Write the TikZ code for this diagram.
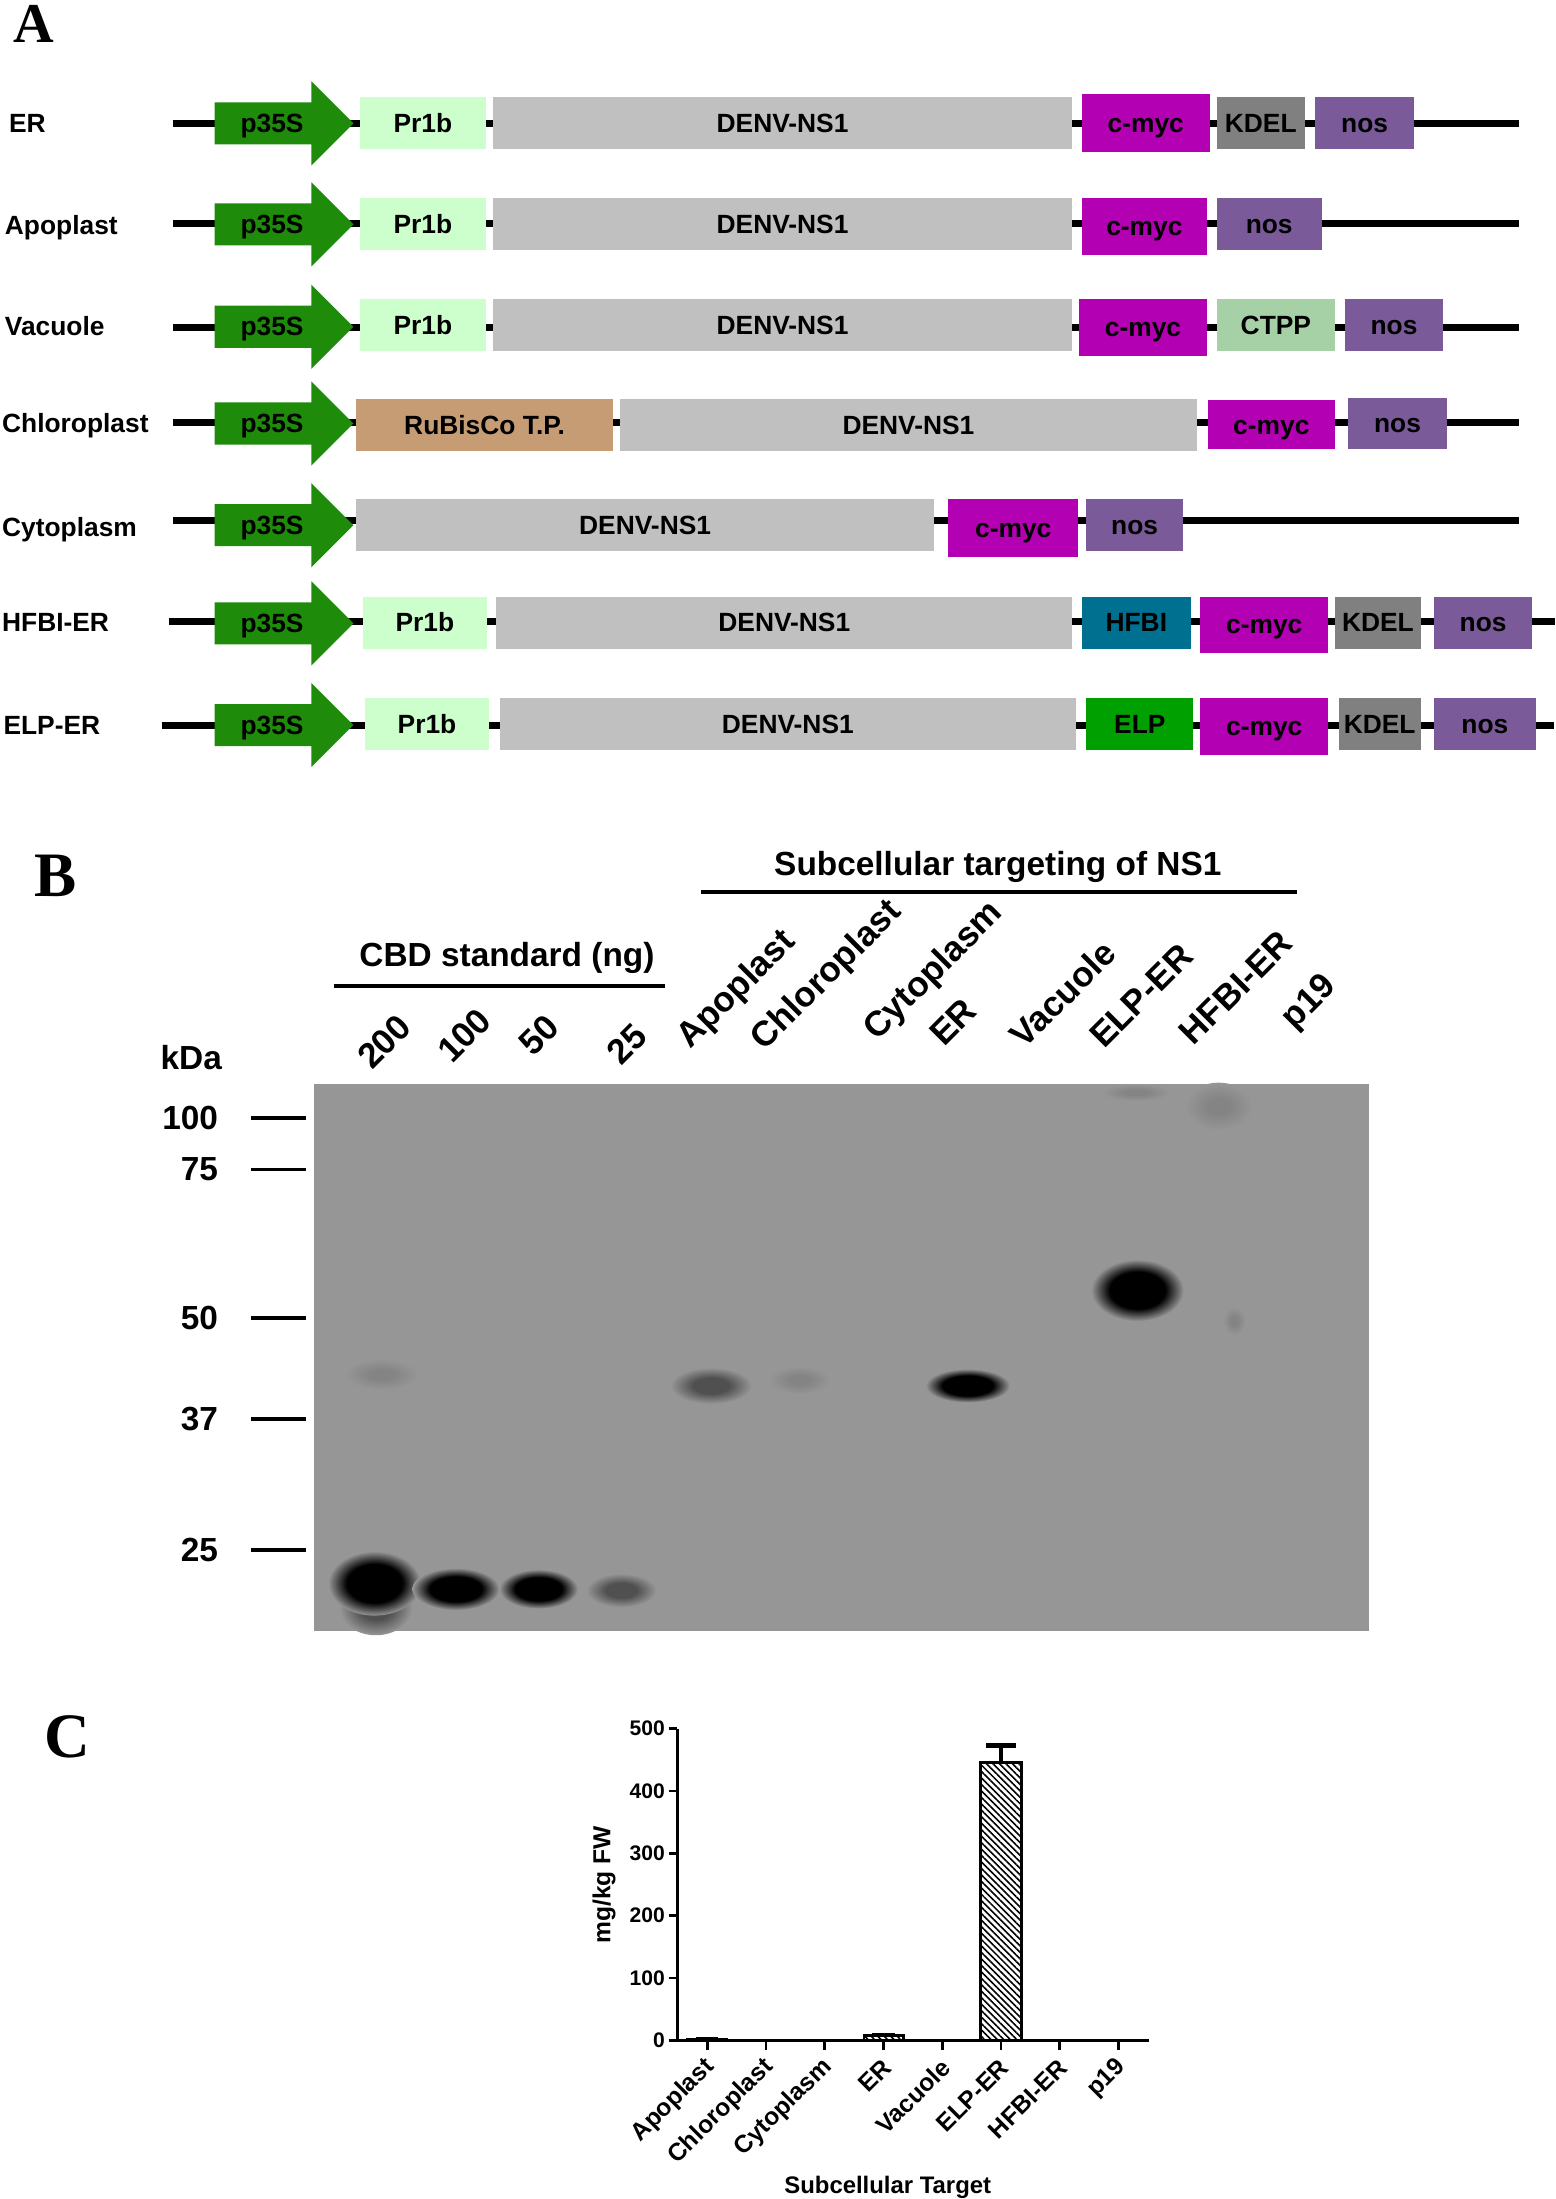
\documentclass[tikz,border=0pt]{standalone}
\usepackage{fontspec}
\setmainfont{Liberation Sans}
\newfontfamily\letterfont{Liberation Serif}
\usetikzlibrary{patterns.meta}

\newlength{\figu}
\setlength{\figu}{0.14022mm}

\definecolor{promgreen}{RGB}{30,140,10}
\definecolor{pronegreen}{RGB}{204,255,204}
\definecolor{ns1gray}{RGB}{192,192,192}
\definecolor{mycmag}{RGB}{178,0,178}
\definecolor{kdelgray}{RGB}{128,128,128}
\definecolor{nospurple}{RGB}{122,90,152}
\definecolor{ctppgreen}{RGB}{166,209,166}
\definecolor{rbctan}{RGB}{198,156,116}
\definecolor{hfbiteal}{RGB}{0,112,144}
\definecolor{elpgreen}{RGB}{0,160,0}
\definecolor{blot}{RGB}{150,150,150}
\definecolor{midcore}{RGB}{80,80,80}
\definecolor{faintcore}{RGB}{132,132,132}

\pgfdeclareradialshading{darkband}{\pgfpoint{0bp}{0bp}}{color(0bp)=(black); color(15bp)=(black); color(25bp)=(blot); color(50bp)=(blot)}
\pgfdeclareradialshading{midband}{\pgfpoint{0bp}{0bp}}{color(0bp)=(midcore); color(11bp)=(midcore); color(25bp)=(blot); color(50bp)=(blot)}
\pgfdeclareradialshading{faintband}{\pgfpoint{0bp}{0bp}}{color(0bp)=(faintcore); color(8bp)=(faintcore); color(25bp)=(blot); color(50bp)=(blot)}

\tikzset{
  backbone/.style={line width=5\figu},
  seg/.style={anchor=north west, inner sep=0pt, minimum height=37\figu,
    text height=13\figu, text depth=0pt, font=\fontsize{7.5}{9}\selectfont\bfseries},
  myc/.style={seg, fill=mycmag, minimum height=40\figu},
  promtext/.style={inner sep=0pt, text height=13\figu, text depth=0pt,
    font=\fontsize{7.5}{9}\selectfont\bfseries},
  rowlabel/.style={promtext, anchor=west},
  letter/.style={anchor=base west, inner sep=0pt, font=\letterfont\bfseries\fontsize{18}{20}\selectfont},
  hdr/.style={inner sep=0pt, font=\fontsize{9.5}{11}\selectfont\bfseries},
  rule/.style={line width=3\figu},
  lane/.style={inner sep=0pt, anchor=base west, rotate=45, font=\fontsize{10}{11}\selectfont\bfseries},
  marktick/.style={line width=2.6\figu},
  axis/.style={line width=2\figu},
  ticklab/.style={inner sep=0pt, anchor=east, font=\fontsize{6}{7}\selectfont\bfseries},
  catlab/.style={inner sep=0pt, anchor=east, rotate=45, font=\fontsize{7}{8}\selectfont\bfseries},
  hatched/.style={draw, line width=2\figu, pattern={Lines[angle=-45, distance=1.3pt, line width=0.45pt]}},
}

\begin{document}
\begin{tikzpicture}[x=0.14022mm, y=-0.14022mm]
\useasboundingbox (0,0) rectangle (1109,1568);

% ===== A: constructs =====
\node[letter, font=\letterfont\bfseries\fontsize{16}{18}\selectfont] (lab-a) at (9,30) {A};

% backbones
\foreach \n/\xl/\xr/\y in {er/123/1083/88, apo/123/1083/159.5, vac/123/1083/233.5,
    chl/123/1083/301.5, cyt/123/1083/371, hfbi/120.5/1109/443.5, elp/115.5/1108/517.5} {
  \coordinate (\n-l) at (\xl,\y);
  \coordinate (\n-r) at (\xr,\y);
  \draw[backbone] (\n-l) -- (\n-r);
}

% p35S promoter arrows
\foreach \n/\y in {er/88, apo/160, vac/233, chl/302, cyt/374.5, hfbi/444.5, elp/517} {
  \fill[promgreen] (153,\y-15) -- (222,\y-15) -- (222,\y-30) -- (252,\y)
    -- (222,\y+30) -- (222,\y+15) -- (153,\y+15) -- cycle;
  \node[promtext] (\n-p35s) at (194,\y) {p35S};
}

% row names
\node[rowlabel] (lab-er) at (6,88) {ER};
\node[rowlabel] (lab-apo) at (3,161) {Apoplast};
\node[rowlabel] (lab-vac) at (3,233) {Vacuole};
\node[rowlabel] (lab-chl) at (1,302) {Chloroplast};
\node[rowlabel] (lab-cyt) at (1,376) {Cytoplasm};
\node[rowlabel] (lab-hfbi) at (1,444) {HFBI-ER};
\node[rowlabel] (lab-elp) at (2,517) {ELP-ER};

% ER
\node[seg, fill=pronegreen, minimum width=90\figu] (er-pr1b) at (256,69) {Pr1b};
\node[seg, fill=ns1gray, minimum width=413\figu] (er-ns1) at (351,69) {DENV-NS1};
\node[myc, minimum width=91\figu, minimum height=41.5\figu] (er-myc) at (771,66.5) {c-myc};
\node[seg, fill=kdelgray, minimum width=63\figu] (er-kdel) at (867,69) {KDEL};
\node[seg, fill=nospurple, minimum width=71\figu] (er-nos) at (937,69) {nos};

% Apoplast
\node[seg, fill=pronegreen, minimum width=90\figu] (apo-pr1b) at (256,141) {Pr1b};
\node[seg, fill=ns1gray, minimum width=413\figu] (apo-ns1) at (351,141) {DENV-NS1};
\node[myc, minimum width=89\figu] (apo-myc) at (771,141) {c-myc};
\node[seg, fill=nospurple, minimum width=75\figu] (apo-nos) at (867,141) {nos};

% Vacuole
\node[seg, fill=pronegreen, minimum width=90\figu] (vac-pr1b) at (256,213) {Pr1b};
\node[seg, fill=ns1gray, minimum width=413\figu] (vac-ns1) at (351,213) {DENV-NS1};
\node[myc, minimum width=91\figu] (vac-myc) at (769,213) {c-myc};
\node[seg, fill=ctppgreen, minimum width=84.5\figu] (vac-ctpp) at (867,213) {CTPP};
\node[seg, fill=nospurple, minimum width=70\figu] (vac-nos) at (958.5,213) {nos};

% Chloroplast
\node[seg, fill=rbctan, minimum width=183\figu] (chl-rbc) at (253.5,284) {RuBisCo T.P.};
\node[seg, fill=ns1gray, minimum width=411.5\figu] (chl-ns1) at (441.5,284) {DENV-NS1};
\node[myc, minimum width=91\figu, minimum height=35\figu] (chl-myc) at (860.5,285) {c-myc};
\node[seg, fill=nospurple, minimum width=70\figu] (chl-nos) at (961,283) {nos};

% Cytoplasm
\node[seg, fill=ns1gray, minimum width=412\figu] (cyt-ns1) at (253.5,355.5) {DENV-NS1};
\node[myc, minimum width=93\figu, minimum height=41\figu] (cyt-myc) at (675.5,355.5) {c-myc};
\node[seg, fill=nospurple, minimum width=69\figu] (cyt-nos) at (774,355.5) {nos};

% HFBI-ER
\node[seg, fill=pronegreen, minimum width=88\figu] (hfbi-pr1b) at (258.5,425) {Pr1b};
\node[seg, fill=ns1gray, minimum width=410.5\figu] (hfbi-ns1) at (353.5,425) {DENV-NS1};
\node[seg, fill=hfbiteal, minimum width=77.5\figu] (hfbi-hfbi) at (771,425) {HFBI};
\node[myc, minimum width=91\figu] (hfbi-myc) at (855.5,425) {c-myc};
\node[seg, fill=kdelgray, minimum width=61\figu] (hfbi-kdel) at (951.5,425) {KDEL};
\node[seg, fill=nospurple, minimum width=70\figu] (hfbi-nos) at (1022,425) {nos};

% ELP-ER
\node[seg, fill=pronegreen, minimum width=88\figu] (elp-pr1b) at (260,497.5) {Pr1b};
\node[seg, fill=ns1gray, minimum width=410.5\figu] (elp-ns1) at (356,497.5) {DENV-NS1};
\node[seg, fill=elpgreen, minimum width=76.5\figu] (elp-elp) at (774,497.5) {ELP};
\node[myc, minimum width=91\figu] (elp-myc) at (855.5,497.5) {c-myc};
\node[seg, fill=kdelgray, minimum width=58.5\figu] (elp-kdel) at (954,497.5) {KDEL};
\node[seg, fill=nospurple, minimum width=72.5\figu] (elp-nos) at (1022,497.5) {nos};

% ===== B: western blot =====
\node[letter] (lab-b) at (24,639) {B};

\node[hdr] (hdr-sub) at (711.5,618) {Subcellular targeting of NS1};
\coordinate (sub-l) at (500,636);
\coordinate (sub-r) at (925,636);
\draw[rule] (sub-l) -- (sub-r);

\node[hdr] (hdr-cbd) at (361.5,683) {CBD standard (ng)};
\coordinate (cbd-l) at (238,703);
\coordinate (cbd-r) at (474,703);
\draw[rule] (cbd-l) -- (cbd-r);

\node[hdr, anchor=west] (hdr-kda) at (114,754) {kDa};

% lane names
\foreach \t/\x/\y in {200/265/764, 100/322/759.5, 50/380/754.6, 25/443/761,
    Apoplast/492/749, Chloroplast/545/750, Cytoplasm/625/743, ER/673/747.5,
    Vacuole/730/749, ELP-ER/787/749, HFBI-ER/851/746.5, p19/923/735} {
  \node[lane] (lane-\t) at (\x,\y) {\t};
}

% size markers
\foreach \m/\y in {100/797, 75/834, 50/940, 37/1012, 25/1105} {
  \node[hdr, anchor=east] (mk-\m) at (156,\y) {\m};
  \coordinate (tka-\m) at (179,\y);
  \coordinate (tkb-\m) at (218,\y);
  \draw[marktick] (tka-\m) -- (tkb-\m);
}

% membrane
\fill[blot] (224,773) rectangle (976,1163);

% bands
\shade[shading=midband] (268,1146) ellipse [x radius=26\figu, y radius=20\figu];
\shade[shading=darkband] (267,1129) ellipse [x radius=33\figu, y radius=23\figu];
\shade[shading=darkband] (325,1133) ellipse [x radius=31\figu, y radius=15\figu];
\shade[shading=darkband] (384,1133) ellipse [x radius=28\figu, y radius=14\figu];
\shade[shading=midband] (443,1134) ellipse [x radius=25\figu, y radius=12\figu];
\shade[shading=faintband] (272,980) ellipse [x radius=26\figu, y radius=11\figu];
\shade[shading=midband] (507,988) ellipse [x radius=29\figu, y radius=13\figu];
\shade[shading=faintband] (570,984) ellipse [x radius=22\figu, y radius=10\figu];
\shade[shading=darkband] (690,988) ellipse [x radius=30\figu, y radius=12\figu];
\shade[shading=darkband] (811,920) ellipse [x radius=33\figu, y radius=22\figu];
\shade[shading=faintband] (869,789) ellipse [x radius=24\figu, y radius=17\figu];
\shade[shading=faintband] (810,779) ellipse [x radius=24\figu, y radius=6\figu];
\shade[shading=faintband] (880,942) ellipse [x radius=8\figu, y radius=10\figu];

% ===== C: yield chart =====
\node[letter] (lab-c) at (31,1253) {C};

\coordinate (ax-o) at (482.8,1454.8);
\coordinate (ax-top) at (482.8,1232.6);
\coordinate (ax-left) at (477,1454.8);
\coordinate (ax-right) at (819,1454.8);
\draw[axis] (ax-top) -- (ax-o);
\draw[axis] (ax-left) -- (ax-right);

\foreach \v in {0,100,...,500} {
  \coordinate (yt-\v) at (482.8,{1454.8-0.4444*\v});
  \coordinate (ytl-\v) at (476.8,{1454.8-0.4444*\v});
  \draw[axis] (ytl-\v) -- (yt-\v);
  \node[ticklab] (yl-\v) at (474.5,{1454.8-0.4444*\v}) {\v};
}

\foreach \i/\t in {0/Apoplast, 1/Chloroplast, 2/Cytoplasm, 3/ER, 4/Vacuole,
    5/ELP-ER, 6/HFBI-ER, 7/p19} {
  \coordinate (xt-\i) at ({504.3+41.9*\i},1454.8);
  \coordinate (xb-\i) at ({504.3+41.9*\i},1462);
  \draw[axis] (xt-\i) -- (xb-\i);
  \node[catlab] (cat-\i) at ({507+41.9*\i},1471) {\t};
}

% bars
\draw[hatched] (490.3,1454.8) rectangle (518.3,1453.9);
\draw[hatched] (616,1454.8) rectangle (644,1451.2);
\draw[hatched] (699.3,1454.8) rectangle (728.1,1257);

% error bars
\coordinate (apo-err) at (504.3,1453.5);
\coordinate (er-err) at (630,1450.4);
\coordinate (elp-bar) at (713.7,1257);
\coordinate (elp-err) at (713.7,1244.6);
\draw[line width=3\figu] (elp-bar) -- (elp-err);
\draw[line width=3\figu] ([xshift=-10.5\figu]elp-err) -- ([xshift=10.5\figu]elp-err);
\draw[line width=2\figu] ([xshift=-8\figu]er-err) -- ([xshift=8\figu]er-err);
\draw[line width=2\figu] ([xshift=-8\figu]apo-err) -- ([xshift=8\figu]apo-err);

\node[inner sep=0pt, rotate=90, font=\fontsize{7}{8}\selectfont\bfseries] (ylab) at (430.8,1344) {mg/kg FW};
\node[inner sep=0pt, font=\fontsize{6.8}{8}\selectfont\bfseries] (xtitle) at (633,1560) {Subcellular Target};

\end{tikzpicture}
\end{document}
